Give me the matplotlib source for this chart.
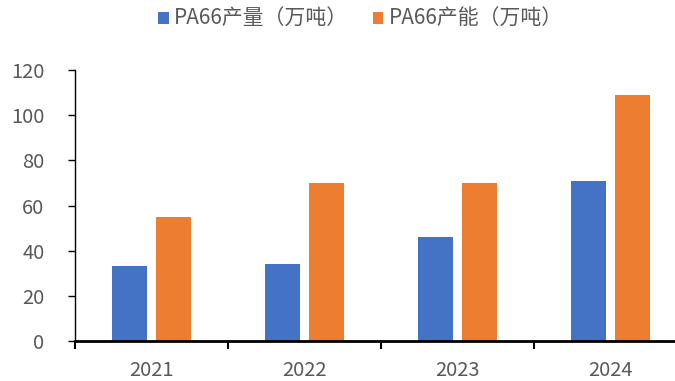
import numpy as np
import matplotlib.pyplot as plt
from matplotlib.ticker import FixedLocator

plt.rcParams['font.family'] = ['Noto Sans CJK SC', 'DejaVu Sans']

years = ['2021', '2022', '2023', '2024']
output = [33, 34, 46, 71]        # PA66产量(万吨)
capacity = [55, 70, 70, 109]     # PA66产能(万吨)

blue = '#4472C4'
orange = '#ED7D31'
grey = '#595959'

fig = plt.figure(figsize=(6.75, 3.81), dpi=100)
ax = fig.add_axes([75 / 675, 40 / 381, 612 / 675, 271 / 381])

x = np.arange(len(years))
w = 0.23
off = 0.143
ax.bar(x - off, output, w, color=blue, label='PA66产量（万吨）')
ax.bar(x + off, capacity, w, color=orange, label='PA66产能（万吨）')

ax.set_xlim(-0.5, len(years) - 0.5)
ax.set_ylim(0, 120)
ax.set_yticks(range(0, 121, 20))

ax.set_xticks(x)
ax.set_xticklabels(years)
ax.xaxis.set_minor_locator(FixedLocator(np.arange(-0.5, len(years), 1.0)))
ax.tick_params(axis='x', which='major', length=0, pad=14, labelsize=14.5, labelcolor=grey)
ax.tick_params(axis='x', which='minor', length=6, width=1.5, direction='out', color='black')
ax.tick_params(axis='y', length=5, width=1.0, direction='out', pad=17, labelsize=14.5,
               labelcolor=grey, color='black')

for s in ['top', 'right']:
    ax.spines[s].set_visible(False)
ax.spines['bottom'].set_linewidth(2.0)
ax.spines['left'].set_linewidth(1.0)

fig.legend(loc='center', bbox_to_anchor=(0.534, 0.95), ncol=2, frameon=False,
           fontsize=15, labelcolor=grey, handlelength=0.5, handleheight=0.5,
           handletextpad=0.25, columnspacing=1.2)

fig.savefig('out.png', dpi=100)
